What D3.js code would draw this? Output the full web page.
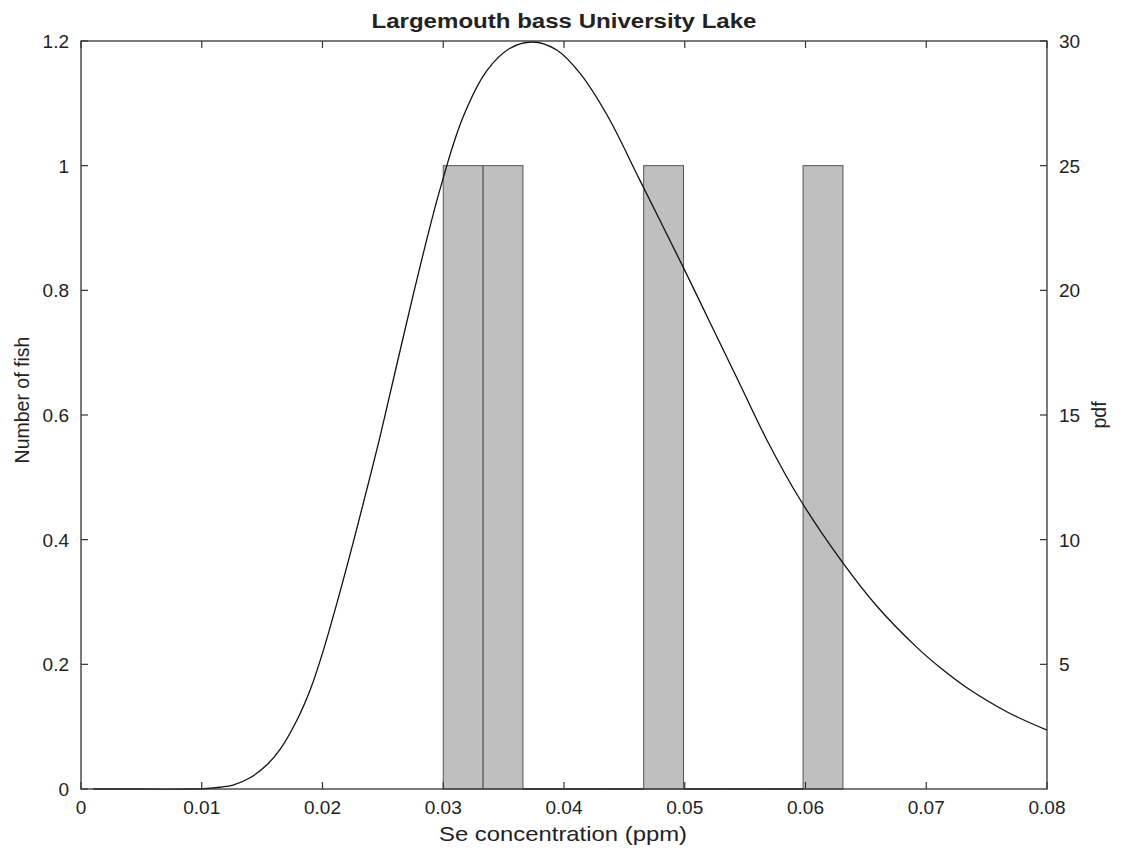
<!DOCTYPE html>
<html><head><meta charset="utf-8">
<script src="https://cdn.jsdelivr.net/npm/d3@7"></script>
<style>body{margin:0;background:#fff}text{font-family:"Liberation Sans",Arial,Helvetica,sans-serif;fill:#222}</style>
</head><body><svg id="c" width="1123" height="852"></svg>
<script>
// ---- data ----
const chartTitle = "Largemouth bass University Lake";
const xLabel = "Se concentration (ppm)";
const yLeftLabel = "Number of fish";
const yRightLabel = "pdf";
const xTicks = [0, 0.01, 0.02, 0.03, 0.04, 0.05, 0.06, 0.07, 0.08];
const xTickLabels = ["0", "0.01", "0.02", "0.03", "0.04", "0.05", "0.06", "0.07", "0.08"];
const yLeftTicks = [0, 0.2, 0.4, 0.6, 0.8, 1, 1.2];
const yLeftTickLabels = ["0", "0.2", "0.4", "0.6", "0.8", "1", "1.2"];
const yRightTicks = [5, 10, 15, 20, 25, 30];
const yRightTickLabels = ["5", "10", "15", "20", "25", "30"];
const binEdges = [0.0300, 0.0333, 0.0366, 0.0399, 0.0432, 0.0466, 0.0499, 0.0532, 0.0565, 0.0598, 0.0631];
const counts = [1, 1, 0, 0, 0, 1, 0, 0, 0, 1];
const pdfX = [0.001, 0.005, 0.009, 0.0104, 0.0115, 0.0126, 0.0140, 0.0154, 0.0165, 0.0179, 0.0190, 0.0200, 0.0217, 0.0234, 0.0248,
  0.0275, 0.0297, 0.0316, 0.0336, 0.0355, 0.0374, 0.0394, 0.0413, 0.0436, 0.0463, 0.0498, 0.0521, 0.0546,
  0.0568, 0.0595, 0.0629, 0.0659, 0.0692, 0.0713, 0.0734, 0.0767, 0.0800];
const pdfY = [0, 0, 0, 0.02, 0.07, 0.16, 0.45, 0.97, 1.6, 2.78, 4.0, 5.45, 8.35, 11.5, 14.2,
  19.8, 24.0, 26.9, 28.8, 29.7, 29.96, 29.64, 28.72, 27.0, 24.4, 21.0, 18.7, 16.2,
  14.0, 11.65, 9.2, 7.34, 5.69, 4.81, 4.05, 3.09, 2.36];

// ---- layout ----
const L = 81, R = 1047, T = 41, B = 789;
const svg = d3.select("#c");
const x = d3.scaleLinear().domain([0, 0.08]).range([L, R]);
const yL = d3.scaleLinear().domain([0, 1.2]).range([B, T]);
const yR = d3.scaleLinear().domain([0, 30]).range([B, T]);
const tickLen = 7;
const fs = 19;

// bars
const bins = counts.map((c, i) => ({x0: binEdges[i], x1: binEdges[i + 1], c}));
svg.append("g").selectAll("rect").data(bins.filter(d => d.c > 0)).join("rect")
  .attr("x", d => x(d.x0)).attr("y", d => yL(d.c))
  .attr("width", d => x(d.x1) - x(d.x0)).attr("height", d => yL(0) - yL(d.c))
  .attr("fill", "#bfbfbf").attr("stroke", "#555").attr("stroke-width", 1);
svg.append("g").selectAll("line").data(bins.filter(d => d.c === 0)).join("line")
  .attr("x1", d => x(d.x0)).attr("x2", d => x(d.x1))
  .attr("y1", yL(0)).attr("y2", yL(0)).attr("stroke", "#111").attr("stroke-width", 1.5);

// pdf curve
const line = d3.line().x(d => x(d[0])).y(d => yR(d[1])).curve(d3.curveCatmullRom.alpha(0.5));
svg.append("path").datum(pdfX.map((v, i) => [v, pdfY[i]]))
  .attr("d", line).attr("fill", "none").attr("stroke", "#111").attr("stroke-width", 1.3);

// frame
svg.append("rect").attr("x", L).attr("y", T).attr("width", R - L).attr("height", B - T)
  .attr("fill", "none").attr("stroke", "#333").attr("stroke-width", 1.3);

// x ticks (bottom & top)
const g = svg.append("g").attr("stroke", "#333").attr("stroke-width", 1.2);
xTicks.forEach(t => {
  g.append("line").attr("x1", x(t)).attr("x2", x(t)).attr("y1", B).attr("y2", B - tickLen);
  g.append("line").attr("x1", x(t)).attr("x2", x(t)).attr("y1", T).attr("y2", T + tickLen);
});
yLeftTicks.forEach(t => g.append("line").attr("x1", L).attr("x2", L + tickLen).attr("y1", yL(t)).attr("y2", yL(t)));
yRightTicks.forEach(t => g.append("line").attr("x1", R).attr("x2", R - tickLen).attr("y1", yR(t)).attr("y2", yR(t)));

// tick labels
svg.append("g").selectAll("text").data(xTicks).join("text")
  .attr("x", d => x(d)).attr("y", 814).attr("text-anchor", "middle").attr("font-size", fs)
  .text((d, i) => xTickLabels[i]);
svg.append("g").selectAll("text").data(yLeftTicks).join("text")
  .attr("x", 69).attr("y", d => yL(d) + 7).attr("text-anchor", "end").attr("font-size", fs)
  .text((d, i) => yLeftTickLabels[i]);
svg.append("g").selectAll("text").data(yRightTicks).join("text")
  .attr("x", 1059).attr("y", d => yR(d) + 7).attr("text-anchor", "start").attr("font-size", fs)
  .text((d, i) => yRightTickLabels[i]);

// titles
svg.append("text").attr("x", 564).attr("y", 28).attr("text-anchor", "middle")
  .attr("font-size", 19.5).attr("font-weight", "bold").attr("fill", "#111")
  .attr("textLength", 385).attr("lengthAdjust", "spacingAndGlyphs").text(chartTitle);
svg.append("text").attr("x", 563).attr("y", 841).attr("text-anchor", "middle")
  .attr("font-size", 21).attr("textLength", 248).attr("lengthAdjust", "spacingAndGlyphs").text(xLabel);
svg.append("text").attr("transform", "translate(29,400) rotate(-90)").attr("text-anchor", "middle")
  .attr("font-size", 19.5).text(yLeftLabel);
svg.append("text").attr("transform", "translate(1106,415) rotate(-90)").attr("text-anchor", "middle")
  .attr("font-size", 19.5).text(yRightLabel);
</script></body></html>
